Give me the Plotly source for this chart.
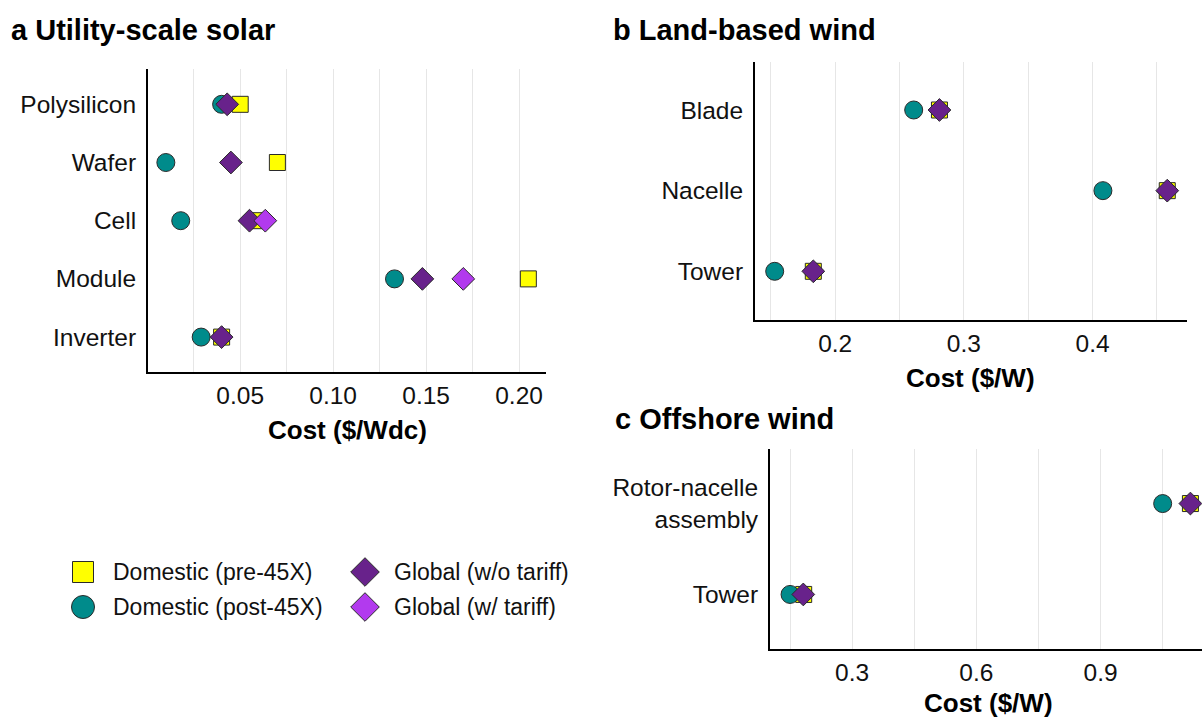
import plotly.graph_objects as go

# ---------------- data ----------------
# a) Utility-scale solar ($/Wdc)
solar_components = ["Polysilicon", "Wafer", "Cell", "Module", "Inverter"]
solar_pre45x = [0.050, 0.070, 0.059, 0.205, 0.040]
solar_post45x = [0.040, 0.010, 0.018, 0.133, 0.029]
solar_global = [0.043, 0.045, 0.055, 0.148, 0.040]
solar_global_tariff = [None, None, 0.0635, 0.170, None]

# b) Land-based wind ($/W)
land_components = ["Blade", "Nacelle", "Tower"]
land_pre45x = [0.281, 0.458, 0.183]
land_post45x = [0.261, 0.408, 0.153]
land_global = [0.281, 0.458, 0.183]

# c) Offshore wind ($/W)
off_components = ["Rotor-nacelle assembly", "Tower"]
off_labels = ["Rotor-nacelle<br>assembly", "Tower"]
off_pre45x = [1.117, 0.183]
off_post45x = [1.050, 0.150]
off_global = [1.117, 0.182]

series_names = ["Domestic (pre-45X)", "Domestic (post-45X)",
                "Global (w/o tariff)", "Global (w/ tariff)"]

# ---------------- styling ----------------
W, H = 1202, 719
FONT = "Liberation Sans, Arial, sans-serif"
TXT = "#111111"
GRID = "#E6E6E6"
EDGE = "#2a2a2a"
TICK_SIZE = 24.5
STYLE = {
    "Domestic (pre-45X)": dict(symbol="square", color="#FFFF00", size=16),
    "Domestic (post-45X)": dict(symbol="circle", color="#008B8B", size=18),
    "Global (w/o tariff)": dict(symbol="diamond", color="#68228B", size=17.5),
    "Global (w/ tariff)": dict(symbol="diamond", color="#B23AEE", size=17.5),
}


def px_x(p):
    return p / W


def px_y(p):
    return 1 - p / H


fig = go.Figure()


def add_panel(idx, comps, series):
    xa = "x" if idx == 1 else f"x{idx}"
    ya = "y" if idx == 1 else f"y{idx}"
    for name, vals in series:
        st = STYLE[name]
        xs = [v for v in vals if v is not None]
        ys = [c for c, v in zip(comps, vals) if v is not None]
        fig.add_trace(go.Scatter(
            x=xs, y=ys, mode="markers", name=name, showlegend=False,
            xaxis=xa, yaxis=ya, cliponaxis=False,
            marker=dict(symbol=st["symbol"], color=st["color"], size=st["size"],
                        line=dict(color=EDGE, width=1)),
        ))


add_panel(1, solar_components, [
    ("Domestic (pre-45X)", solar_pre45x),
    ("Domestic (post-45X)", solar_post45x),
    ("Global (w/o tariff)", solar_global),
    ("Global (w/ tariff)", solar_global_tariff),
])
add_panel(2, land_components, [
    ("Domestic (pre-45X)", land_pre45x),
    ("Domestic (post-45X)", land_post45x),
    ("Global (w/o tariff)", land_global),
])
add_panel(3, off_components, [
    ("Domestic (pre-45X)", off_pre45x),
    ("Domestic (post-45X)", off_post45x),
    ("Global (w/o tariff)", off_global),
])


def xaxis_cfg(dom, rng, dtick, fmt):
    return dict(
        domain=dom, range=rng, tick0=0, dtick=dtick, tickformat=fmt,
        showgrid=True, gridcolor=GRID, gridwidth=1, zeroline=False,
        showline=True, linecolor="black", linewidth=2,
        ticks="", ticklabelstandoff=1,
        tickfont=dict(size=TICK_SIZE, color=TXT, family=FONT),
        minor=dict(dtick=dtick / 2, tick0=0, showgrid=True, gridcolor=GRID, gridwidth=1),
        fixedrange=True,
    )


def yaxis_cfg(dom, comps, labels, anchor):
    n = len(comps)
    return dict(
        domain=dom, type="category", categoryorder="array",
        categoryarray=list(reversed(comps)), range=[-0.6, n - 1 + 0.6],
        tickvals=comps, ticktext=labels,
        showgrid=False, zeroline=False, showline=True, linecolor="black",
        linewidth=2, ticks="", ticklabelstandoff=5, anchor=anchor,
        tickfont=dict(size=TICK_SIZE, color=TXT, family=FONT), fixedrange=True,
    )


fig.update_layout(
    width=W, height=H, margin=dict(l=0, r=0, t=0, b=0),
    paper_bgcolor="white", plot_bgcolor="rgba(0,0,0,0)",
    font=dict(family=FONT, color=TXT),
    showlegend=False,
    xaxis=xaxis_cfg([px_x(148), px_x(546)], [0.0004, 0.2145], 0.05, ".2f") | dict(anchor="y"),
    yaxis=yaxis_cfg([px_y(372), px_y(69.4)], solar_components, solar_components, "x"),
    xaxis2=xaxis_cfg([px_x(755), px_x(1186.7)], [0.1377, 0.4731], 0.1, ".1f") | dict(anchor="y2"),
    yaxis2=yaxis_cfg([px_y(319.7), px_y(61.6)], land_components, land_components, "x2"),
    xaxis3=xaxis_cfg([px_x(770), 1.0], [0.1016, 1.145], 0.3, ".1f") | dict(anchor="y3"),
    yaxis3=yaxis_cfg([px_y(649), px_y(449)], off_components, off_labels, "x3"),
    # overlay axes for the legend, measured in pixels
    xaxis4=dict(domain=[0, 1], range=[0, W], visible=False, anchor="y4", fixedrange=True),
    yaxis4=dict(domain=[0, 1], range=[H, 0], visible=False, anchor="x4", fixedrange=True),
)

# panel titles
for text, x, y in [("a Utility-scale solar", 9, 30),
                   ("b Land-based wind", 611, 30),
                   ("c Offshore wind", 613, 419)]:
    fig.add_annotation(text=f"<b>{text}</b>", xref="paper", yref="paper",
                       x=px_x(x), y=px_y(y), xanchor="left", yanchor="middle",
                       showarrow=False, font=dict(size=29, color="black", family=FONT))

# axis titles
for text, x, y in [("Cost ($/Wdc)", 347, 430),
                   ("Cost ($/W)", 971, 378),
                   ("Cost ($/W)", 988, 703)]:
    fig.add_annotation(text=f"<b>{text}</b>", xref="paper", yref="paper",
                       x=px_x(x), y=px_y(y), xanchor="center", yanchor="middle",
                       showarrow=False, font=dict(size=26, color="black", family=FONT))

# legend
legend_items = [
    ("Domestic (pre-45X)", 83, 572, 21, 111),
    ("Domestic (post-45X)", 83, 607, 23, 111),
    ("Global (w/o tariff)", 365, 572, 22, 392),
    ("Global (w/ tariff)", 365, 607, 22, 392),
]
for name, mx, my, ms, tx in legend_items:
    st = STYLE[name]
    fig.add_trace(go.Scatter(
        x=[mx], y=[my], mode="markers", xaxis="x4", yaxis="y4", showlegend=False,
        hoverinfo="skip", cliponaxis=False,
        marker=dict(symbol=st["symbol"], color=st["color"], size=ms,
                    line=dict(color=EDGE, width=1)),
    ))
    fig.add_annotation(text=name, xref="x4", yref="y4", x=tx, y=my,
                       xanchor="left", yanchor="middle", showarrow=False,
                       font=dict(size=23, color=TXT, family=FONT))

fig.write_html("out.html")
